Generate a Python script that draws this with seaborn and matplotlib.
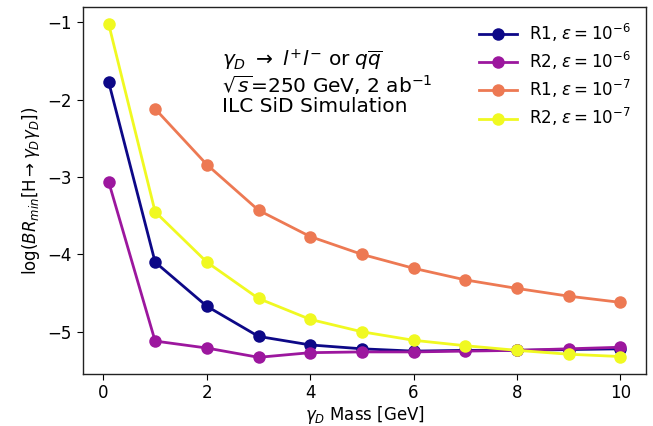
import numpy as np
import pandas as pd
import matplotlib
matplotlib.use("Agg")
import matplotlib.pyplot as plt
import seaborn as sns

mass = [0.1, 1, 2, 3, 4, 5, 6, 7, 8, 9, 10]
r1_e6 = [-1.77, -4.10, -4.67, -5.06, -5.17, -5.22, -5.25, -5.24, -5.24, -5.23, -5.22]
r2_e6 = [-3.06, -5.12, -5.21, -5.33, -5.27, -5.26, -5.26, -5.25, -5.24, -5.22, -5.20]
mass_r1_e7 = [1, 2, 3, 4, 5, 6, 7, 8, 9, 10]
r1_e7 = [-2.12, -2.84, -3.43, -3.77, -4.00, -4.18, -4.33, -4.44, -4.54, -4.62]
r2_e7 = [-1.02, -3.45, -4.10, -4.57, -4.84, -5.00, -5.11, -5.18, -5.24, -5.29, -5.32]

labels = [r"R1, $\varepsilon = 10^{-6}$", r"R2, $\varepsilon = 10^{-6}$",
          r"R1, $\varepsilon = 10^{-7}$", r"R2, $\varepsilon = 10^{-7}$"]

frames = [
    pd.DataFrame({"mass": mass, "val": r1_e6, "series": labels[0]}),
    pd.DataFrame({"mass": mass, "val": r2_e6, "series": labels[1]}),
    pd.DataFrame({"mass": mass_r1_e7, "val": r1_e7, "series": labels[2]}),
    pd.DataFrame({"mass": mass, "val": r2_e7, "series": labels[3]}),
]
df = pd.concat(frames, ignore_index=True)

plt.rcParams["font.family"] = ["DejaVu Sans"]
plt.rcParams["axes.edgecolor"] = "#222222"
plt.rcParams["axes.linewidth"] = 1.0

colors = plt.cm.plasma(np.linspace(0, 1, 4))

fig = plt.figure(figsize=(6.53, 4.26), dpi=100)
ax = fig.add_axes([83 / 653, 1 - 374 / 426, (646 - 83) / 653, (374 - 7) / 426])

sns.lineplot(data=df, x="mass", y="val", hue="series", hue_order=labels,
             palette=list(colors), marker="o", markersize=9, markeredgewidth=0,
             linewidth=2.0, ax=ax, sort=False)

ax.set_xlabel(r"$\gamma_D$ Mass [GeV]", fontsize=12, labelpad=1)
ax.set_ylabel(r"log($BR_{min}$[H$\rightarrow\gamma_D\gamma_D$])", fontsize=12)
ax.set_xticks([0, 2, 4, 6, 8, 10])
ax.set_yticks([-5, -4, -3, -2, -1])
ax.tick_params(labelsize=12, length=4.5)
ax.tick_params(axis="x", pad=3)

ax.legend(title=None, frameon=False, loc="upper right", fontsize=12,
          labelspacing=0.36, handlelength=2.25, handletextpad=0.75)

ax.text(2.3, -1.32,
        r"$\gamma_D$ $\rightarrow$ $l^{+}l^{-}$ or $q\overline{q}$" + "\n"
        + r"$\sqrt{s}$=250 GeV, 2 ab$^{-1}$" + "\n" + "ILC SiD Simulation",
        fontsize=14.5, va="top", ha="left", linespacing=1.0)

fig.savefig("out.png", dpi=100)
